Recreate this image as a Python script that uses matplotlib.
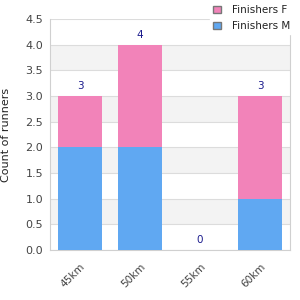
import matplotlib
matplotlib.use("Agg")
import matplotlib.pyplot as plt
from matplotlib.patches import Patch

categories = ["45km", "50km", "55km", "60km"]
finishers_m = [2, 2, 0, 1]
finishers_f = [1, 2, 0, 2]
totals = [m + f for m, f in zip(finishers_m, finishers_f)]

col_m = "#60a8f2"
col_f = "#f283b9"

fig = plt.figure(figsize=(3, 3), dpi=100)
ax = fig.add_axes([50/300, 50/300, 240/300, 231/300])

x = range(len(categories))
ax.bar(x, finishers_m, width=0.72, color=col_m, zorder=3)
ax.bar(x, finishers_f, width=0.72, bottom=finishers_m, color=col_f, zorder=3)

for i, t in enumerate(totals):
    ax.text(i, t + 0.1, str(t), ha="center", va="bottom", fontsize=7.5, color="#1a1a8c", zorder=4)

ax.set_xlim(-0.5, 3.5)
ax.set_ylim(0, 4.5)
yt = [0.0, 0.5, 1.0, 1.5, 2.0, 2.5, 3.0, 3.5, 4.0, 4.5]
ax.set_yticks(yt)
ax.set_yticklabels([f"{v:.1f}" for v in yt], fontsize=8, color="#444444")
for lo in [0.5, 1.5, 2.5, 3.5]:
    ax.axhspan(lo, lo + 0.5, color="#f3f3f3", zorder=0, lw=0)
for v in yt:
    ax.axhline(v, color="#dcdcdc", lw=0.8, zorder=1)

ax.set_xticks(list(x))
ax.set_xticklabels(categories, rotation=45, ha="right", rotation_mode="anchor", fontsize=7.5, color="#444444")
ax.tick_params(length=0, pad=5)
ax.tick_params(axis="x", pad=8)
for s in ["left", "bottom", "right"]:
    ax.spines[s].set_color("#d0d0d0")
ax.spines["top"].set_visible(False)
ax.set_ylabel("Count of runners", fontsize=8, color="#222222", labelpad=10)

handles = [Patch(facecolor=col_f, edgecolor="#777777", label="Finishers F"),
           Patch(facecolor=col_m, edgecolor="#777777", label="Finishers M")]
leg = fig.legend(handles=handles, loc="upper left", bbox_to_anchor=(205/300, 1.01), frameon=True,
                 fontsize=7.5, handlelength=0.7, handleheight=0.7, handletextpad=1.1,
                 labelspacing=0.55, borderpad=0.3, labelcolor="#222222")
leg.get_frame().set_edgecolor("white")
leg.get_frame().set_facecolor("white")
leg.get_frame().set_alpha(1)

fig.savefig("out.png", dpi=100)
